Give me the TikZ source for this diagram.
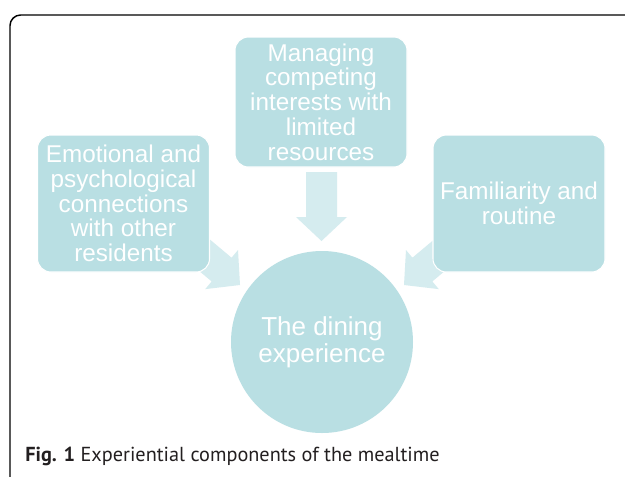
\documentclass[tikz,border=0pt]{standalone}
\usepackage{fontspec}
\setmainfont{Liberation Sans}
\newfontfamily\capfont{PT Sans}
\definecolor{boxfill}{HTML}{B9DFE3}
\definecolor{arrowfill}{HTML}{D5ECEF}
\definecolor{captext}{HTML}{231F20}
\tikzset{
  boxnode/.style={draw=white, line width=0.8pt, fill=boxfill, rounded corners=10pt,
    minimum width=129pt, inner sep=0pt, align=center, text=white,
    font=\fontsize{18.2}{18.6}\selectfont},
  dining/.style={circle, fill=boxfill, minimum size=136.5pt, inner sep=0pt, align=center,
    text=white, font=\fontsize{19.5}{20.2}\selectfont},
  blockarrow/.pic={\fill[arrowfill] (0,0) -- (-24,25.5) -- (-24,15.5) -- (-69,15.5)
    -- (-69,-15.5) -- (-24,-15.5) -- (-24,-25.5) -- cycle;},
  frameline/.style={draw=black, line width=1.1pt, rounded corners=8pt},
  captionstyle/.style={anchor=west, inner sep=0pt, text=captext,
    font=\capfont\fontsize{15.2}{17}\selectfont}
}
\begin{document}
\begin{tikzpicture}[x=0.75pt,y=-0.75pt]
\useasboundingbox (0,0) rectangle (625,476);
\fill[white] (0,0) rectangle (625,476);
% frame
\coordinate (fbot) at (10,478);
\coordinate (fcorner) at (10,15);
\coordinate (fright) at (627,15);
\draw[frameline] (fbot) -- (fcorner) -- (fright);
% arrows (drawn first, tails hidden by boxes)
\coordinate (tiptop) at (321.5,241);
\coordinate (tipleft) at (240,285);
\coordinate (tipright) at (404,285);
\pic[rotate=-90] at (tiptop) {blockarrow};
\pic[rotate=-40] at (tipleft) {blockarrow};
\pic[rotate=-140] at (tipright) {blockarrow};
% boxes
\node[boxnode, minimum height=97.5pt] (top) at (321,102)
  {Managing\\competing\\interests with\\limited\\resources};
\node[boxnode, minimum height=102.75pt] (left) at (123.5,203.5)
  {Emotional and\\psychological\\connections\\with other\\residents};
\node[boxnode, minimum height=102.75pt] (right) at (519,203.5)
  {Familiarity and\\routine};
\node[dining] (center) at (322,342) {The dining\\experience};
% caption
\node[captionstyle] (cap) at (25,456)
  {\textbf{Fig. 1} Experiential components of the mealtime};
\end{tikzpicture}
\end{document}
